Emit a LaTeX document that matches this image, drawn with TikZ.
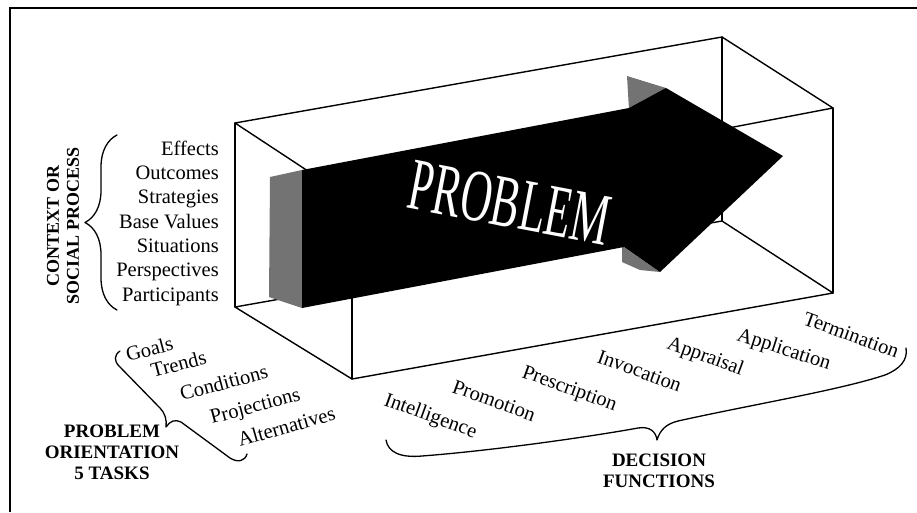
\documentclass[tikz,border=0pt]{standalone}
\usepackage{fontspec}
\setmainfont{Liberation Serif}
\usetikzlibrary{decorations.pathreplacing}
\begin{document}
\begin{tikzpicture}[x=1pt,y=-1pt,
  boxline/.style={line width=1.4pt, line join=round, line cap=round},
  bracestyle/.style={line width=1.3pt, line join=round, line cap=round},
  item/.style={inner sep=0pt, font=\fontsize{20.5}{24}\selectfont},
  headlabel/.style={inner sep=0pt, align=center, font=\bfseries\fontsize{19}{21}\selectfont},
  darkface/.style={fill=black, draw=none},
  greyface/.style={fill=black!55, draw=none}]
\useasboundingbox (0,0) rectangle (917,512);
% frame
\draw[line width=2.2pt] (10,512) -- (10,8) -- (917,8);
% box corners
\coordinate (P1) at (235,123);
\coordinate (P2) at (722,37);
\coordinate (P3) at (833,108);
\coordinate (P4) at (352,200);
\coordinate (Q1) at (235,307);
\coordinate (Q2) at (722,221);
\coordinate (Q3) at (833,293);
\coordinate (Q4) at (352,379);
\draw[boxline] (P1) -- (P2) -- (P3) -- (P4) -- cycle;
\draw[boxline] (Q1) -- (Q2) -- (Q3) -- (Q4) -- cycle;
\draw[boxline] (P1) -- (Q1);
\draw[boxline] (P2) -- (Q2);
\draw[boxline] (P3) -- (Q3);
\draw[boxline] (P4) -- (Q4);
% arrow
\fill[greyface] (270,177) -- (302,170) -- (302,308) -- (269,297) -- cycle;
\fill[greyface] (627,76) -- (666,88) -- (655,108) -- (629,110) -- cycle;
\fill[greyface] (622,246) -- (660,272) -- (640,270) -- (622,262) -- cycle;
\fill[darkface] (302,170) -- (629,108) -- (666,88) -- (783,156) -- (660,272) -- (624,247) -- (302,308) -- cycle;
\node[inner sep=0pt, text=white, rotate=-10.8, font=\fontsize{74}{80}\selectfont] (prob) at (510,203) {\scalebox{0.58}[1]{PROBLEM}};
% context list
\node[item, anchor=base east] (c1) at (219,155) {Effects};
\node[item, anchor=base east] (c2) at (219,179.3) {Outcomes};
\node[item, anchor=base east] (c3) at (219,203.7) {Strategies};
\node[item, anchor=base east] (c4) at (219,228) {Base Values};
\node[item, anchor=base east] (c5) at (219,252.3) {Situations};
\node[item, anchor=base east] (c6) at (219,276.7) {Perspectives};
\node[item, anchor=base east] (c7) at (219,301) {Participants};
\draw[bracestyle, decorate, decoration={brace, amplitude=32pt}] (117,310) -- (117,135);
\node[inner sep=0pt, align=center, rotate=90, font=\bfseries\fontsize{18}{20}\selectfont] (ctx) at (63,226) {CONTEXT OR\\SOCIAL PROCESS};
% problem orientation
\node[item, rotate=15, anchor=base west] (g1) at (128,362) {Goals};
\node[item, rotate=15, anchor=base west] (g2) at (153,378) {Trends};
\node[item, rotate=15, anchor=base west] (g3) at (182,401) {Conditions};
\node[item, rotate=15, anchor=base west] (g4) at (212,424) {Projections};
\node[item, rotate=16, anchor=base west] (g5) at (240,447) {Alternatives};
\draw[bracestyle] (120,351) .. controls (114,355) and (114,361) .. (119,366)
  -- (160,408) .. controls (165,413) and (167,420) .. (166,427)
  .. controls (170,421) and (175,419) .. (181,422)
  -- (230,458) .. controls (238,463) and (245,461) .. (247,454);
\node[headlabel] (po) at (112,452) {PROBLEM\\ORIENTATION\\5 TASKS};
% decision functions
\node[item, rotate=-20, anchor=base west] (d1) at (383,405) {Intelligence};
\node[item, rotate=-20, anchor=base west] (d2) at (451,392) {Promotion};
\node[item, rotate=-20, anchor=base west] (d3) at (521,377) {Prescription};
\node[item, rotate=-20, anchor=base west] (d4) at (596,362) {Invocation};
\node[item, rotate=-20, anchor=base west] (d5) at (666,348) {Appraisal};
\node[item, rotate=-18, anchor=base west] (d6) at (736,340) {Application};
\node[item, rotate=-20, anchor=base west] (d7) at (802,324) {Termination};
\draw[bracestyle] (386,440) .. controls (388,452) and (400,458) .. (422,456)
  .. controls (500,450) and (600,435) .. (638,428)
  .. controls (650,426) and (656,432) .. (657,440)
  .. controls (660,430) and (666,424) .. (678,421)
  .. controls (750,405) and (840,390) .. (885,375)
  .. controls (900,369) and (908,360) .. (906,348);
\node[headlabel] (df) at (659,471) {DECISION\\FUNCTIONS};
\end{tikzpicture}
\end{document}
